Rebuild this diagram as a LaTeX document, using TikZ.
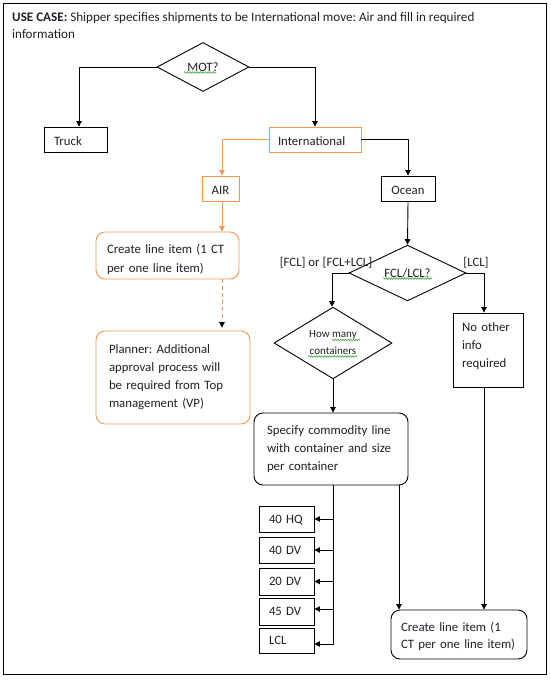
\documentclass[tikz,border=0pt]{standalone}
\usepackage{fontspec}
\setmainfont{Carlito}
\usetikzlibrary{shapes.geometric,arrows.meta,decorations.pathmorphing,calc}
\definecolor{orng}{RGB}{242,150,80}
\definecolor{txt}{RGB}{35,30,40}
\definecolor{spell}{RGB}{70,165,70}
\frenchspacing
\begin{document}
\begin{tikzpicture}[x=1pt,y=-1pt,
  every node/.style={text=txt, font=\fontsize{12.8}{18}\selectfont},
  bx/.style={draw=black, line width=0.9pt, inner ysep=0pt, align=left},
  obx/.style={bx, draw=orng},
  rnd/.style={rounded corners=9pt},
  tv/.style 2 args={text height=#1, text depth=#2},
  dia/.style={draw=black, line width=0.9pt, diamond, inner sep=0pt, align=center},
  lbl/.style={inner sep=0pt},
  arr/.style={line width=0.9pt, -{Triangle[length=5.5pt,width=5.5pt]}},
  oarr/.style={arr, draw=orng, -{Triangle[length=5.5pt,width=5.5pt,color=orng]}},
  darr/.style={line width=0.9pt, draw=orng, dash pattern=on 4pt off 3pt, -{Triangle[length=5.5pt,width=5.5pt,color=black]}},
  sq/.style={draw=spell, line width=0.6pt, decorate, decoration={snake, amplitude=0.8pt, segment length=2.6pt}}
]
\useasboundingbox (0,0) rectangle (550,685);
\draw[line width=0.9pt] (3,3) rectangle (546,674);

% title
\node[anchor=north west, align=left, inner sep=0pt, font=\fontsize{13.1}{17}\selectfont] (title) at (12,12)
  {\textbf{USE CASE:} Shipper specifies shipments to be International move: Air and fill in required\\information};

% nodes
\node[dia, minimum width=92pt, minimum height=49pt] (mot) at (203,67) {MOT?};
\node[bx, tv={14pt}{1.5pt}, minimum height=25pt, inner xsep=10pt, text width=43pt] (truck) at (75.5,139.5) {Truck};
\node[obx, tv={14pt}{1.5pt}, minimum height=25pt, inner xsep=9pt, text width=74pt] (intl) at (315,139.5) {International};
\node[obx, tv={13pt}{2pt}, minimum height=25pt, minimum width=37pt, inner xsep=0pt, align=center] (air) at (220.5,188.5) {AIR};
\node[bx, tv={13pt}{2pt}, minimum height=25pt, minimum width=54pt, inner xsep=0pt, align=center] (ocean) at (408,188.5) {Ocean};
\node[obx, rnd, tv={9pt}{14pt}, minimum height=47pt, inner xsep=11pt, text width=121pt,
  font=\fontsize{12.8}{19}\selectfont] (create) at (167.5,255.5)
  {Create line item (1 CT\\per one line item)};
\node[obx, rnd, tv={9pt}{58pt}, minimum height=93pt, inner xsep=13pt, text width=128pt] (planner) at (173,377.5)
  {Planner: Additional\\approval process will\\be required from Top\\management (VP)};
\node[dia, minimum width=117pt, minimum height=50pt] (fcl) at (407.5,273) {FCL/LCL?};
\node[lbl] (lblfcl) at (326,263) {[FCL] or [FCL+LCL]};
\node[lbl] (lbllcl) at (476,263) {[LCL]};
\node[dia, minimum width=118pt, minimum height=60pt, font=\fontsize{11}{17}\selectfont] (howmany) at (333,343)
  {How many\\containers};
\node[bx, tv={9pt}{47pt}, minimum height=74pt, inner xsep=9pt, text width=52pt] (noother) at (488,350)
  {No other\\info\\required};
\node[bx, rnd, tv={9pt}{39pt}, minimum height=72pt, inner xsep=13pt, text width=128pt] (spec) at (331,449)
  {Specify commodity line\\with container and size\\per container};
\node[bx, tv={10pt}{2pt}, minimum height=26pt, inner xsep=10pt, text width=35pt] (hq) at (286.5,519) {40 HQ};
\node[bx, tv={10pt}{2pt}, minimum height=26pt, inner xsep=10pt, text width=35pt] (dva) at (286.5,550) {40 DV};
\node[bx, tv={10pt}{2pt}, minimum height=27pt, inner xsep=10pt, text width=35pt] (dvb) at (286.5,581.5) {20 DV};
\node[bx, tv={10pt}{2pt}, minimum height=27pt, inner xsep=10pt, text width=35pt] (dvc) at (286.5,611.5) {45 DV};
\node[bx, tv={10pt}{2pt}, minimum height=25pt, inner xsep=10pt, text width=35pt] (lcl) at (286.5,640.5) {LCL};
\node[bx, rnd, tv={9pt}{16pt}, minimum height=49pt, inner xsep=10pt, text width=116pt,
  font=\fontsize{12.8}{17}\selectfont] (create2) at (459,634.5)
  {\mbox{Create line item (1}\\\mbox{CT per one line item)}};

% spell-check squiggles
\draw[sq] (184,72.5) -- (216,72.5);
\draw[sq] (383,278.5) -- (432,278.5);
\draw[sq] (332,340) -- (360,340);
\draw[sq] (308,356.5) -- (357,356.5);

% connectors
\draw[arr] (mot.west) -| ([xshift=3.5pt]truck.north);
\draw[arr] (mot.east) -| (intl.north);
\draw[oarr] (intl.west) -| ([xshift=1.5pt]air.north);
\draw[arr] (intl.east) -| (ocean.north);
\draw[oarr] ([xshift=1.5pt]air.south) -- ([xshift=1.5pt]air.south |- create.north);
\draw[darr] ([xshift=1.5pt]air.south |- create.south) -- ([xshift=1.5pt,yshift=3pt]air.south |- planner.north);
\draw[arr] (ocean.south) -- (fcl.north);
\draw[arr] (fcl.west) -| ([xshift=-1pt]howmany.north);
\draw[arr] (fcl.east) -| ([xshift=-4pt]noother.north);
\draw[arr] (howmany.south) -- (howmany.south |- spec.north);
\draw[arr] (howmany.south |- spec.south) |- ([yshift=-3.5pt]lcl.east);
\draw[arr] (howmany.south |- hq.east) -- (hq.east);
\draw[arr] (howmany.south |- dva.east) -- (dva.east);
\draw[arr] (howmany.south |- dvb.east) -- (dvb.east);
\draw[arr] ([yshift=2.5pt]howmany.south |- dvc.east) -- ([yshift=2.5pt]dvc.east);
\draw[arr] ([xshift=68pt]spec.south) -- ([xshift=68pt]spec.south |- create2.north);
\draw[arr] ([xshift=-4pt]noother.south) -- ([xshift=-4pt]noother.south |- create2.north);
\end{tikzpicture}
\end{document}
